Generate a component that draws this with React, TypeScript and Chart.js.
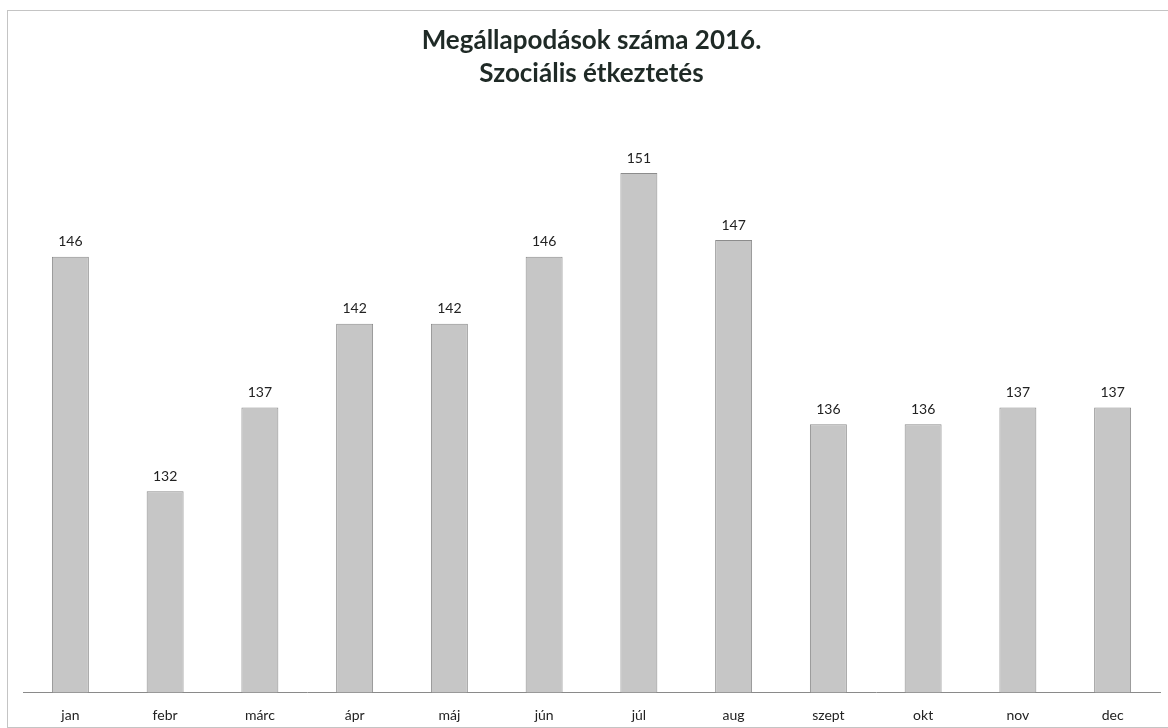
import React, { useEffect, useRef } from "react";
import { Chart, registerables } from "chart.js";

Chart.register(...registerables);

const categories = ["jan", "febr", "márc", "ápr", "máj", "jún", "júl", "aug", "szept", "okt", "nov", "dec"];
const values = [146, 132, 137, 142, 142, 146, 151, 147, 136, 136, 137, 137];
const titleLines = ["Megállapodások száma 2016.", "Szociális étkeztetés"];
const yMin = 120;
const yMax = 155;

const valueLabels = {
  id: "valueLabels",
  afterDatasetsDraw(chart: any) {
    const ctx = chart.ctx;
    const meta = chart.getDatasetMeta(0);
    ctx.save();
    ctx.font = "14px Lato, 'Open Sans', sans-serif";
    ctx.fillStyle = "#222222";
    ctx.textAlign = "center";
    ctx.textBaseline = "middle";
    meta.data.forEach((bar: any, i: number) => {
      ctx.fillText(String(chart.data.datasets[0].data[i]), bar.x, bar.y - 15);
    });
    ctx.restore();
  },
};

export default function App() {
  const ref = useRef<HTMLCanvasElement | null>(null);
  useEffect(() => {
    document.body.style.overflow = "hidden";
    const chart = new Chart(ref.current as HTMLCanvasElement, {
      type: "bar",
      data: {
        labels: categories,
        datasets: [
          {
            data: values,
            backgroundColor: "#c6c6c6",
            borderColor: "#8c8c8c",
            borderWidth: 1,
            categoryPercentage: 1,
            barPercentage: 0.39,
          },
        ],
      },
      options: {
        animation: false,
        responsive: false,
        maintainAspectRatio: false,
        layout: { padding: { left: 23, right: 8, top: 0, bottom: 7 } },
        plugins: {
          legend: { display: false },
          tooltip: { enabled: false },
          title: {
            display: true,
            text: titleLines,
            color: "#1f2a26",
            font: { family: "Lato, 'Open Sans', sans-serif", size: 26, weight: "bold", lineHeight: 1.27 },
            padding: { top: 24, bottom: 16 },
          },
        },
        scales: {
          x: {
            grid: { display: false, drawTicks: false },
            border: { display: true, color: "#8a8a8a", width: 1 },
            ticks: {
              color: "#222222",
              font: { family: "Lato, 'Open Sans', sans-serif", size: 14 },
              padding: 15,
            },
          },
          y: {
            display: false,
            min: yMin,
            max: yMax,
          },
        },
      },
      plugins: [valueLabels],
    });
    return () => chart.destroy();
  }, []);
  return (
    <div style={{ position: "absolute", left: 0, top: 0, width: 1168, height: 728, background: "#fff", overflow: "hidden" }}>
      <div
        style={{
          position: "absolute",
          left: 7,
          top: 10,
          width: 1200,
          height: 716,
          borderTop: "1px solid #c4c4c4",
          borderLeft: "1px solid #c4c4c4",
          borderBottom: "1px solid #c4c4c4",
        }}
      />
      <canvas ref={ref} width={1168} height={746} style={{ position: "absolute", left: 0, top: 0 }} />
    </div>
  );
}
